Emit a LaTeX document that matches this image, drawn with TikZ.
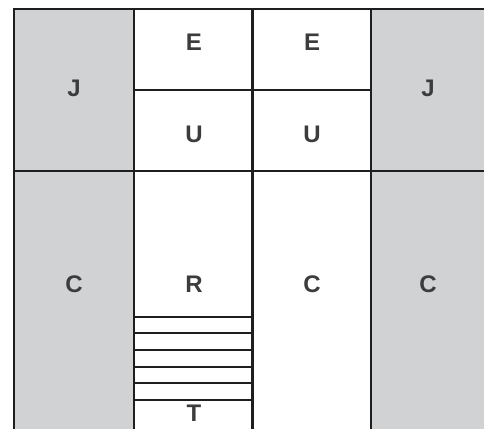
\documentclass[tikz,border=0pt]{standalone}
\usepackage{fontspec}
\setmainfont{Liberation Sans}
\definecolor{cellgray}{HTML}{D1D2D4}
\definecolor{linec}{HTML}{1E1E1E}
\definecolor{txt}{HTML}{3C3C3C}
\begin{document}
\begin{tikzpicture}[x=1pt,y=-1pt,
  wall/.style={draw=linec,line width=2.3pt},
  thin/.style={draw=linec,line width=2pt},
  lbl/.style={text=txt,font=\fontsize{24}{24}\selectfont\bfseries,inner sep=0pt,anchor=center}]
\useasboundingbox (0,0) rectangle (484,429);
% gray areas
\fill[cellgray] (14,9) rectangle (134,429);
\fill[cellgray] (371,9) rectangle (484,429);
% lines
\draw[wall] (13,9) -- (484,9);
\draw[wall] (14,9) -- (14,429);
\draw[wall] (134,9) -- (134,429);
\draw[wall] (252.5,9) -- (252.5,429);
\draw[wall] (371,9) -- (371,429);
\draw[wall] (134,90) -- (371,90);
\draw[wall] (14,171) -- (484,171);
% stairs
\foreach \yy in {316.7,333.3,350,366.7,383.3,400}
  \draw[thin] (134,\yy) -- (252.5,\yy);
% labels
\node[lbl] (j1) at (74,88) {J};
\node[lbl] (j2) at (428,88) {J};
\node[lbl] (e1) at (194,42) {E};
\node[lbl] (e2) at (312,42) {E};
\node[lbl] (u1) at (194,134) {U};
\node[lbl] (u2) at (312,134) {U};
\node[lbl] (c1) at (74,284) {C};
\node[lbl] (r) at (194,284) {R};
\node[lbl] (c2) at (312,284) {C};
\node[lbl] (c3) at (428,284) {C};
\node[lbl] (t) at (194,413) {T};
\end{tikzpicture}
\end{document}
